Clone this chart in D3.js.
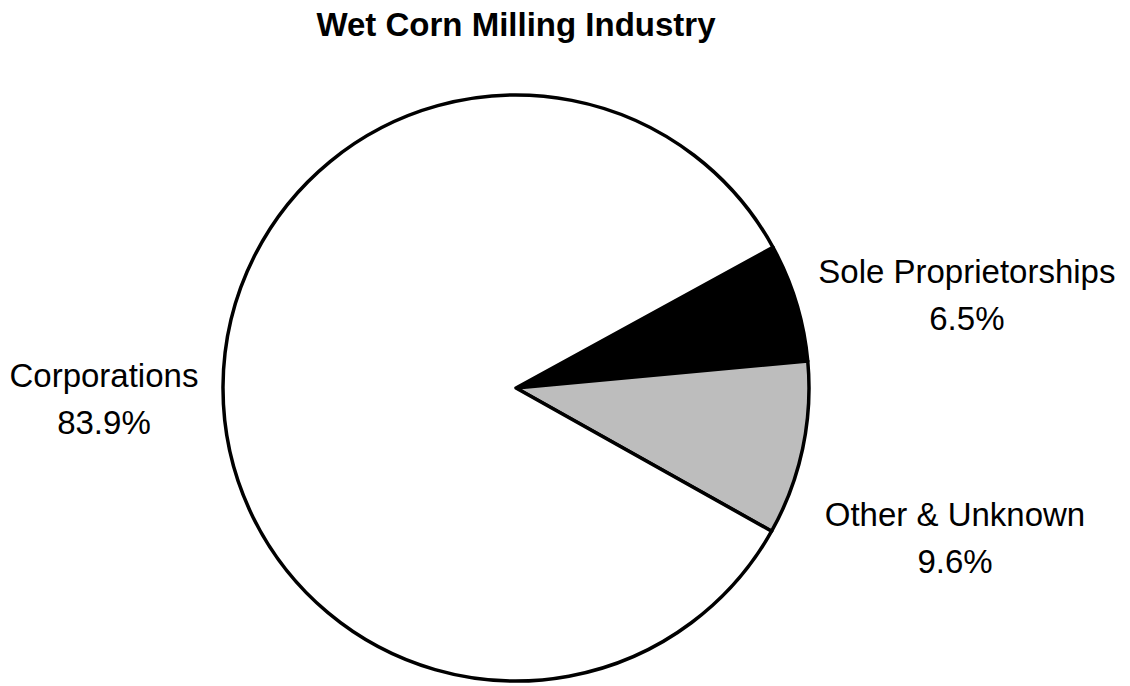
<!DOCTYPE html>
<html>
<head>
<meta charset="utf-8">
<script src="https://cdn.jsdelivr.net/npm/d3@7"></script>
<style>
  body { margin: 0; background: #fff; }
  text { font-family: "Liberation Sans", Arial, sans-serif; fill: #000; }
</style>
</head>
<body>
<script>
const w = 1130;
const h = 686;

// data, in drawing order (clockwise from the upper right)
const labels = ["Sole Proprietorships", "Other & Unknown", "Corporations"];
const shares = [6.5, 9.6, 83.9];
const fills = ["#000000", "#bdbdbd", "#ffffff"];

const title = "Wet Corn Milling Industry";

const cx = 516, cy = 388, radius = 293;
const startDeg = 61.3;

// label nudges from the label-arc centroid (px)
const labelShift = {
  "Sole Proprietorships": [53, 29],
  "Other & Unknown": [32, 64],
  "Corporations": [4, 13]
};

const svg = d3.select("body")
              .append("svg")
              .attr("width", w)
              .attr("height", h);

svg.append("text")
   .attr("x", 516)
   .attr("y", 36)
   .attr("text-anchor", "middle")
   .style("font-weight", "bold")
   .style("font-size", "33px")
   .text(title);

const data = labels.map((d, i) => ({label: d, value: shares[i], fill: fills[i]}));

const start = startDeg * Math.PI / 180;
const pie = d3.pie()
              .sort(null)
              .value(d => d.value)
              .startAngle(start)
              .endAngle(start + 2 * Math.PI);

const arc = d3.arc().innerRadius(0).outerRadius(radius);
const labelArc = d3.arc().innerRadius(radius * 1.42).outerRadius(radius * 1.42);

const g = svg.append("g")
             .attr("transform", "translate(" + cx + "," + cy + ")");

const arcs = pie(data);

g.selectAll("path.slice")
 .data(arcs)
 .enter()
 .append("path")
 .attr("class", "slice")
 .attr("d", arc)
 .attr("fill", d => d.data.fill)
 .attr("stroke", "#000")
 .attr("stroke-width", 3.5)
 .attr("stroke-linejoin", "round");

const lab = g.selectAll("g.label")
             .data(arcs)
             .enter()
             .append("g")
             .attr("class", "label")
             .attr("transform", function(d) {
               const c = labelArc.centroid(d);
               const s = labelShift[d.data.label];
               return "translate(" + (c[0] + s[0]) + "," + (c[1] + s[1]) + ")";
             });

lab.append("text")
   .attr("text-anchor", "middle")
   .attr("y", -12)
   .style("font-size", "33px")
   .text(d => d.data.label);

lab.append("text")
   .attr("text-anchor", "middle")
   .attr("y", 35)
   .style("font-size", "33px")
   .text(d => d.data.value.toFixed(1) + "%");
</script>
</body>
</html>
